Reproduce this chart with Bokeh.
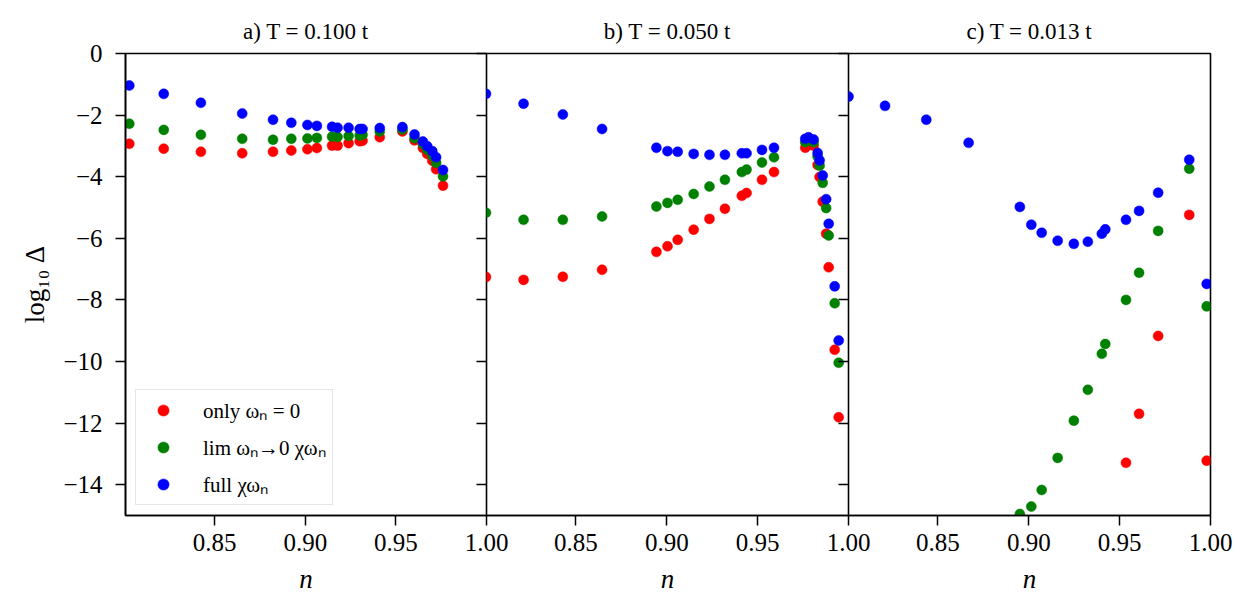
import math
from bokeh.plotting import figure
from bokeh.layouts import row
from bokeh.models import (Legend, LegendItem, LinearAxis, FixedTicker, Range1d,
                          ColumnDataSource)
from bokeh.embed import file_html
from bokeh.resources import INLINE

nan = float("nan")
FONT = "Liberation Serif"

# ---------------- data ----------------
titles = ["a) T = 0.100 t", "b) T = 0.050 t", "c) T = 0.013 t"]
series_labels = ["only ωₙ = 0", "lim ωₙ→0 χωₙ", "full χωₙ"]
series_colors = ["#ff0000", "#008000", "#0000ff"]

x_ticks = [0.85, 0.90, 0.95, 1.00]
x_tick_labels = ["0.85", "0.90", "0.95", "1.00"]
y_ticks = [0, -2, -4, -6, -8, -10, -12, -14]
y_tick_labels = ["0", "−2", "−4", "−6", "−8", "−10", "−12", "−14"]

# panel a) T = 0.100 t
n_a = [0.8029, 0.8219, 0.8424, 0.8652, 0.8822, 0.8923, 0.9012, 0.9064, 0.9148, 0.9178, 0.9239,
       0.9300, 0.9316, 0.9411, 0.9536, 0.9603, 0.9649, 0.9673, 0.9701, 0.9722, 0.9760]
only_a = [-2.93, -3.09, -3.19, -3.24, -3.19, -3.15, -3.11, -3.07, -2.99, -2.99, -2.91,
          -2.85, -2.83, -2.72, -2.53, -2.82, -3.07, -3.26, -3.48, -3.76, -4.29]
lim_a = [-2.28, -2.48, -2.64, -2.77, -2.80, -2.77, -2.76, -2.74, -2.70, -2.71, -2.68,
         -2.66, -2.64, -2.53, -2.47, -2.75, -2.94, -3.12, -3.32, -3.55, -3.99]
full_a = [-1.04, -1.31, -1.60, -1.95, -2.15, -2.25, -2.32, -2.35, -2.38, -2.41, -2.41,
          -2.45, -2.45, -2.42, -2.39, -2.63, -2.86, -3.01, -3.17, -3.37, -3.78]

# panel b) T = 0.050 t
n_b = [0.8005, 0.8212, 0.8428, 0.8644, 0.8943, 0.9004, 0.9060, 0.9148, 0.9235, 0.9320, 0.9413, 0.9439,
       0.9524, 0.9590, 0.9762, 0.9780, 0.9808, 0.9830, 0.9841, 0.9858, 0.9877, 0.9891, 0.9924, 0.9946]
only_b = [-7.26, -7.35, -7.25, -7.02, -6.44, -6.26, -6.05, -5.72, -5.37, -5.04, -4.62, -4.53,
          -4.10, -3.85, -3.06, -2.97, -2.99, -3.62, -4.01, -4.81, -5.85, -6.94, -9.62, -11.81]
lim_b = [-5.17, -5.40, -5.40, -5.29, -4.97, -4.85, -4.75, -4.56, -4.32, -4.10, -3.85, -3.77,
         -3.54, -3.37, -2.88, -2.80, -2.88, -3.34, -3.64, -4.20, -5.02, -5.91, -8.11, -10.04]
full_b = [-1.31, -1.63, -1.98, -2.45, -3.06, -3.17, -3.19, -3.26, -3.29, -3.29, -3.24, -3.24,
          -3.13, -3.06, -2.77, -2.72, -2.79, -3.23, -3.47, -3.96, -4.73, -5.53, -7.56, -9.32]

# panel c) T = 0.013 t
n_c = [0.8008, 0.8209, 0.8436, 0.8669, 0.8951, 0.9014, 0.9071, 0.9159, 0.9248, 0.9325, 0.9402,
       0.9421, 0.9535, 0.9607, 0.9712, 0.9883, 0.9979]
only_c = [nan, nan, nan, nan, nan, nan, nan, nan, nan, nan, nan,
          nan, -13.29, -11.70, -9.17, -5.24, -13.22]
lim_c = [nan, nan, nan, nan, -14.95, -14.71, -14.17, -13.13, -11.92, -10.92, -9.75,
         -9.43, -8.00, -7.12, -5.76, -3.74, -8.21]
full_c = [-1.40, -1.70, -2.15, -2.90, -4.98, -5.56, -5.82, -6.08, -6.18, -6.11, -5.85,
          -5.71, -5.40, -5.11, -4.52, -3.45, -7.48]

panels = [
    (n_a, [only_a, lim_a, full_a]),
    (n_b, [only_b, lim_b, full_b]),
    (n_c, [only_c, lim_c, full_c]),
]

# ---------------- figures ----------------
R = 30
y_range = Range1d(-15, 0)
figs = []
legend_renderers = None
for i, (n_vals, ys) in enumerate(panels):
    p = figure(frame_width=361 if i == 0 else 362, frame_height=462,
               x_range=Range1d(0.8008, 1.0), y_range=y_range,
               output_backend="svg", toolbar_location=None,
               y_axis_location="left" if i == 0 else None,
               min_border_left=125 if i == 0 else 0, min_border_right=R,
               min_border_top=53, min_border_bottom=96,
               border_fill_color=None, background_fill_color="white",
               outline_line_color="black", outline_line_width=1.6, outline_line_alpha=1.0,
               title=titles[i])
    if i > 0:
        p.margin = (0, 0, 0, -R)
    p.grid.visible = False

    p.title.align = "center"
    p.title.text_font = FONT
    p.title.text_font_size = "23px"
    p.title.text_font_style = "normal"
    p.title.text_color = "black"
    p.title.standoff = 19

    xa = p.xaxis[0]
    xa.ticker = FixedTicker(ticks=x_ticks)
    xa.major_label_overrides = dict(zip(x_ticks, x_tick_labels))
    xa.axis_label = "n"
    xa.axis_label_text_font = FONT
    xa.axis_label_text_font_style = "italic"
    xa.axis_label_text_font_size = "27px"
    xa.axis_label_text_color = "black"
    xa.axis_label_standoff = 10
    xa.major_label_text_font = FONT
    xa.major_label_text_font_size = "25px"
    xa.major_label_text_color = "black"
    xa.major_label_standoff = 8
    xa.major_tick_out = 10
    xa.major_tick_in = 0
    xa.major_tick_line_width = 1.5
    xa.major_tick_line_color = "black"
    xa.minor_tick_line_color = None
    xa.axis_line_width = 1.6
    xa.axis_line_color = "black"

    if i == 0:
        ya = p.yaxis[0]
        ya.ticker = FixedTicker(ticks=y_ticks)
        ya.major_label_overrides = dict(zip(y_ticks, y_tick_labels))
        ya.axis_label = "log₁₀ Δ"
        ya.axis_label_text_font = FONT
        ya.axis_label_text_font_style = "normal"
        ya.axis_label_text_font_size = "27px"
        ya.axis_label_text_color = "black"
        ya.axis_label_standoff = 10
        ya.major_label_text_font = FONT
        ya.major_label_text_font_size = "25px"
        ya.major_label_text_color = "black"
        ya.major_label_standoff = 13
        ya.major_tick_out = 10
        ya.major_tick_in = 0
        ya.major_tick_line_width = 1.5
        ya.major_tick_line_color = "black"
        ya.minor_tick_line_color = None
        ya.axis_line_width = 1.6
        ya.axis_line_color = "black"

    if i < 2:
        # ticks of the neighbouring panel's left spine, pointing into this panel
        ra = LinearAxis(ticker=FixedTicker(ticks=y_ticks), major_tick_in=10, major_tick_out=0,
                        major_tick_line_width=1.5, major_tick_line_color="black",
                        minor_tick_line_color=None,
                        axis_line_color=None, major_label_text_color=None,
                        major_label_text_font_size="0px", major_label_standoff=0)
        p.add_layout(ra, "right")

    src = ColumnDataSource(dict(n=n_vals, only=ys[0], lim=ys[1], full=ys[2]))
    rs = []
    for col, c in zip(["only", "lim", "full"], series_colors):
        r = p.scatter("n", col, source=src, size=10, fill_color=c, line_color=c, line_width=0.5)
        rs.append(r)
    if i == 0:
        legend_renderers = rs
    figs.append(p)

leg = Legend(items=[LegendItem(label=lab, renderers=[r]) for lab, r in zip(series_labels, legend_renderers)],
             location="bottom_left", margin=10, padding=6, spacing=9,
             label_height=28, glyph_height=28, glyph_width=42, label_standoff=19,
             label_text_font=FONT, label_text_font_size="21px", label_text_color="black",
             border_line_color="#cccccc", border_line_width=1.5,
             background_fill_color="white", background_fill_alpha=0.8)
figs[0].add_layout(leg)

layout = row(*figs, spacing=0)
open("out.html", "w").write(file_html(layout, INLINE))
